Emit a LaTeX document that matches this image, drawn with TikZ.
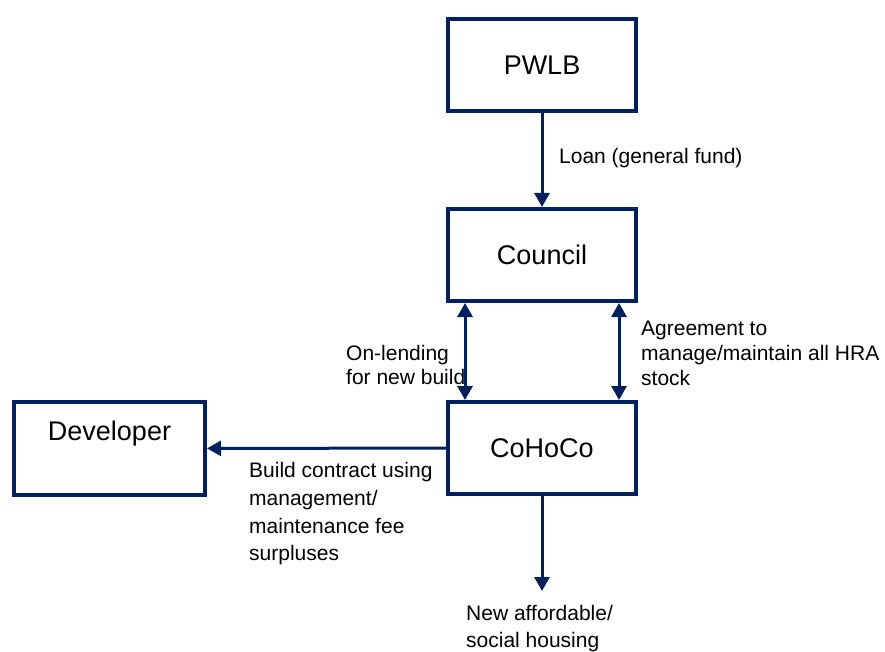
\documentclass[tikz,border=0pt]{standalone}
\usepackage{fontspec}
\setmainfont{Liberation Sans}
\usepackage{xcolor}
\usetikzlibrary{arrows.meta,positioning}
\definecolor{navy}{RGB}{0,32,96}

\begin{document}
\begin{tikzpicture}[x=1pt,y=-1pt,>={Triangle[width=15pt,length=14pt]},line join=miter,
  box/.style={draw=navy,line width=4pt,minimum width=188pt,minimum height=92pt,inner sep=0pt,font=\fontsize{27}{32}\selectfont},
  flow/.style={draw=navy,line width=3pt},
  note/.style={inner sep=0pt,align=left,font=\fontsize{21}{25}\selectfont}]
  \useasboundingbox (0,0) rectangle (885,652);
  % Node: pwlb
  \node[box] (pwlb) at (542,65) {PWLB};
  % Node: council
  \node[box] (council) at (542,255) {Council};
  % Node: cohoco
  \node[box] (cohoco) at (542,448) {CoHoCo};
  % Node: developer
  \node[box,minimum width=191pt,minimum height=93pt,
    label={[font=\fontsize{27}{32}\selectfont,anchor=north,yshift=-17pt]north:Developer}] (developer) at (109.5,448.5) {};
  % Node: housing
  \coordinate (housing) at (542,591);
  % Edge: pwlb -> council
  \draw [flow,->] (pwlb) -- (council);
  % Edge: council <-> cohoco
  \draw [flow,<->] ([xshift=19pt]council.south west) -- ([xshift=19pt]cohoco.north west);
  \draw [flow,<->] ([xshift=-19pt]council.south east) -- ([xshift=-19pt]cohoco.north east);
  % Edge: cohoco -> developer
  \draw [flow,->] (cohoco) -- (developer);
  % Edge: cohoco -> housing
  \draw [flow,->] (cohoco) -- (housing);
  % Labels
  \node[note,anchor=west] (loan) at (559,158) {Loan (general fund)};
  \node[note,anchor=west] (agreement) at (641,353) {Agreement to\\manage/maintain all HRA\\stock};
  \node[note,anchor=west,font=\fontsize{21}{24}\selectfont] (onlending) at (346,365) {On-lending\\for new build};
  \node[note,anchor=west,font=\fontsize{21}{27.7}\selectfont] (contract) at (249,514) {Build contract using\\management/\\maintenance fee\\surpluses};
  \node[note,anchor=north west,font=\fontsize{21}{27}\selectfont] (newhousing) at (466,605) {New affordable/\\social housing};
\end{tikzpicture}
\end{document}
